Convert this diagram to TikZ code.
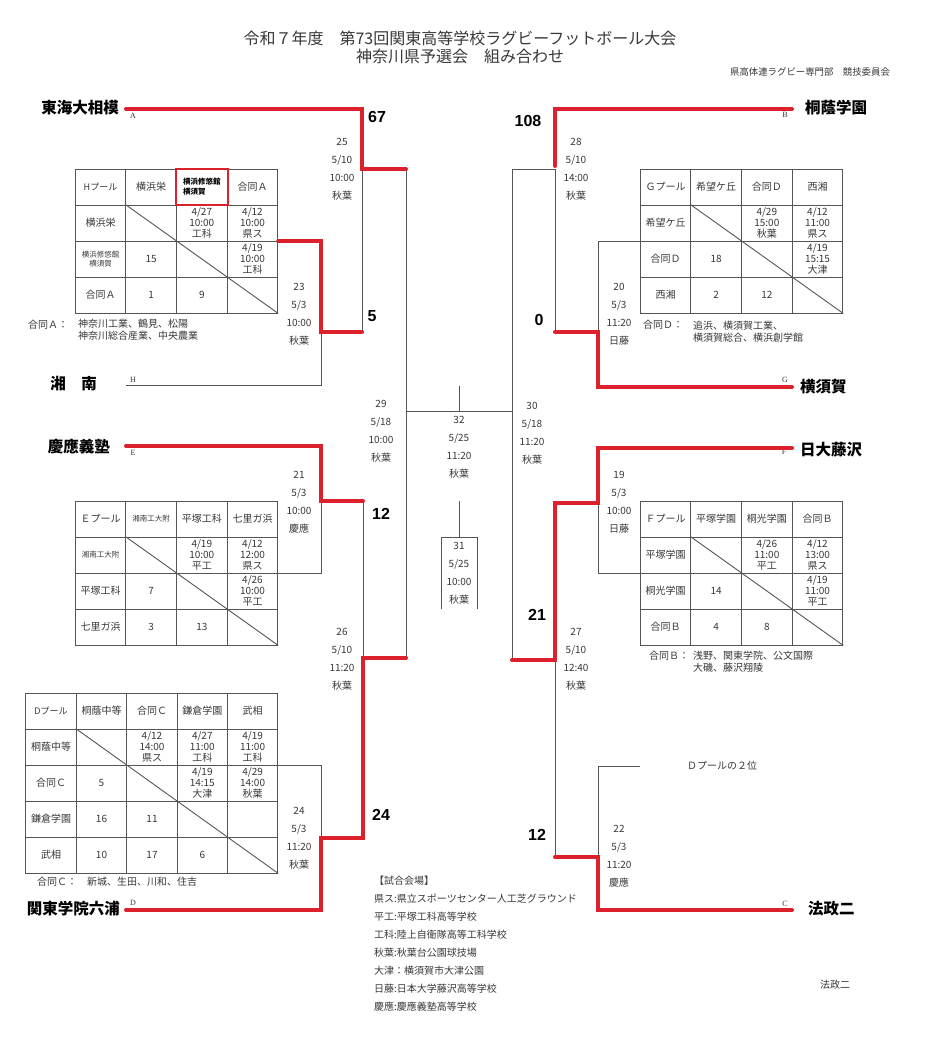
\documentclass[tikz,border=0pt]{standalone}
\usepackage{fontspec}
\setmainfont{Liberation Serif}
\setsansfont{Liberation Sans}
\newfontfamily\jp{Noto Sans CJK JP}

\definecolor{rugbyred}{RGB}{220,32,44}
\definecolor{linegray}{RGB}{85,85,85}
\definecolor{textgray}{RGB}{55,55,55}

\tikzset{
  win/.style={draw=rugbyred, line width=4pt, line cap=round},
  link/.style={draw=linegray, line width=0.9pt},
  title/.style={font=\jp\fontsize{16}{18}\selectfont, text=textgray, inner sep=0pt},
  org/.style={font=\jp\fontsize{9.4}{11}\selectfont, text=textgray, inner sep=0pt},
  team/.style={font=\jp\bfseries\fontsize{15.5}{16}\selectfont, inner sep=0pt},
  score/.style={font=\sffamily\bfseries\fontsize{16}{16}\selectfont, inner sep=0pt},
  slot/.style={font=\rmfamily\fontsize{8}{8}\selectfont, text=textgray, inner sep=0pt},
  match/.style={font=\jp\fontsize{10}{18}\selectfont, text=textgray, align=center, inner sep=0pt},
  cell/.style={draw=linegray, line width=0.9pt, minimum width=50.6pt, minimum height=36pt, inner sep=0pt, align=center, text=textgray, font=\jp\fontsize{10}{11}\selectfont},
  cellsmall/.style={cell, font=\jp\fontsize{7.5}{9}\selectfont},
  cellbold/.style={cell, align=left, text=black, font=\jp\bfseries\fontsize{7.5}{10}\selectfont},
  note/.style={font=\jp\fontsize{10}{12}\selectfont, text=textgray, inner sep=0pt, align=left},
}

\begin{document}
\begin{tikzpicture}[x=1pt, y=-1pt]
  \useasboundingbox (0,0) rectangle (926,1054);
  \node[title] (title1) at (460,38) {令和７年度　第73回関東高等学校ラグビーフットボール大会};
  \node[title] (title2) at (460,56) {神奈川県予選会　組み合わせ};
  \node[org] (org) at (810,72) {県高体連ラグビー専門部　競技委員会};

  \node[team, anchor=east] (tokai) at (119,108) {東海大相模};
  \node[team, anchor=east] (shonan) at (97,384) {湘　南};
  \node[team, anchor=east] (keio) at (110,447) {慶應義塾};
  \node[team, anchor=east] (kantomutsu) at (120,909) {関東学院六浦};
  \node[team, anchor=west] (toin) at (805,108) {桐蔭学園};
  \node[team, anchor=west] (yokosuka) at (800,387) {横須賀};
  \node[team, anchor=west] (nichidai) at (800,450) {日大藤沢};
  \node[team, anchor=west] (hosei) at (808,909) {法政二};

  \coordinate (A) at (126,109);
  \coordinate (H) at (126,385);
  \coordinate (E) at (126,446);
  \coordinate (D) at (126,910);
  \coordinate (B) at (792,109);
  \coordinate (G) at (792,387);
  \coordinate (F) at (792,448);
  \coordinate (C) at (792,910);
  \coordinate (d2) at (640,766);
  \coordinate (j25) at (362,169);
  \coordinate (j23) at (321,332);
  \coordinate (j21) at (321,501);
  \coordinate (j24) at (321,838);
  \coordinate (j26) at (363,658);
  \coordinate (j29) at (406,411);
  \coordinate (j30) at (512,411);
  \coordinate (j28) at (555,169);
  \coordinate (j20) at (598,332);
  \coordinate (j19) at (598,503);
  \coordinate (j27) at (555,660);
  \coordinate (j22) at (598,857);
  \coordinate (j32) at (459,411);
  \coordinate (t32) at (459,386);
  \coordinate (t31) at (459,501);
  \coordinate (j31) at (459,537);

  \node[slot] (slotA) at (133,116) {A};
  \node[slot] (slotH) at (133,380) {H};
  \node[slot] (slotE) at (133,453) {E};
  \node[slot] (slotD) at (133,903) {D};
  \node[slot] (slotB) at (785,115) {B};
  \node[slot] (slotG) at (785,380) {G};
  \node[slot] (slotF) at (784,452) {F};
  \node[slot] (slotC) at (785,904) {C};

  \node[cell, font=\jp\fontsize{9}{11}\selectfont] (h00) at (100.5,187) {Hプール};
  \node[cell] (h01) at (151.2,187) {横浜栄};
  \node[cellbold] (h02) at (201.8,187) {横浜修悠館\\横須賀};
  \node[cell] (h03) at (252.5,187) {合同Ａ};
  \node[cell] (h10) at (100.5,223) {横浜栄};
  \node[cell] (h11) at (151.2,223) {};
  \node[cell] (h12) at (201.8,223) {4/27\\10:00\\工科};
  \node[cell] (h13) at (252.5,223) {4/12\\10:00\\県ス};
  \node[cellsmall] (h20) at (100.5,259) {横浜修悠館\\横須賀};
  \node[cell] (h21) at (151.2,259) {15};
  \node[cell] (h22) at (201.8,259) {};
  \node[cell] (h23) at (252.5,259) {4/19\\10:00\\工科};
  \node[cell] (h30) at (100.5,295) {合同Ａ};
  \node[cell] (h31) at (151.2,295) {1};
  \node[cell] (h32) at (201.8,295) {9};
  \node[cell] (h33) at (252.5,295) {};
  \draw[link] (h11.north west) -- (h33.south east);
  \draw[rugbyred, line width=2pt] (h02.north west) rectangle (h02.south east);

  \node[cell] (g00) at (665.5,187) {Ｇプール};
  \node[cell] (g01) at (716.2,187) {希望ケ丘};
  \node[cell] (g02) at (766.8,187) {合同Ｄ};
  \node[cell] (g03) at (817.5,187) {西湘};
  \node[cell] (g10) at (665.5,223) {希望ケ丘};
  \node[cell] (g11) at (716.2,223) {};
  \node[cell] (g12) at (766.8,223) {4/29\\15:00\\秋葉};
  \node[cell] (g13) at (817.5,223) {4/12\\11:00\\県ス};
  \node[cell] (g20) at (665.5,259) {合同Ｄ};
  \node[cell] (g21) at (716.2,259) {18};
  \node[cell] (g22) at (766.8,259) {};
  \node[cell] (g23) at (817.5,259) {4/19\\15:15\\大津};
  \node[cell] (g30) at (665.5,295) {西湘};
  \node[cell] (g31) at (716.2,295) {2};
  \node[cell] (g32) at (766.8,295) {12};
  \node[cell] (g33) at (817.5,295) {};
  \draw[link] (g11.north west) -- (g33.south east);

  \node[cell] (e00) at (100.5,519) {Ｅプール};
  \node[cellsmall] (e01) at (151.2,519) {湘南工大附};
  \node[cell] (e02) at (201.8,519) {平塚工科};
  \node[cell] (e03) at (252.5,519) {七里ガ浜};
  \node[cellsmall] (e10) at (100.5,555) {湘南工大附};
  \node[cell] (e11) at (151.2,555) {};
  \node[cell] (e12) at (201.8,555) {4/19\\10:00\\平工};
  \node[cell] (e13) at (252.5,555) {4/12\\12:00\\県ス};
  \node[cell] (e20) at (100.5,591) {平塚工科};
  \node[cell] (e21) at (151.2,591) {7};
  \node[cell] (e22) at (201.8,591) {};
  \node[cell] (e23) at (252.5,591) {4/26\\10:00\\平工};
  \node[cell] (e30) at (100.5,627) {七里ガ浜};
  \node[cell] (e31) at (151.2,627) {3};
  \node[cell] (e32) at (201.8,627) {13};
  \node[cell] (e33) at (252.5,627) {};
  \draw[link] (e11.north west) -- (e33.south east);

  \node[cell] (f00) at (665.5,519) {Ｆプール};
  \node[cell] (f01) at (716.2,519) {平塚学園};
  \node[cell] (f02) at (766.8,519) {桐光学園};
  \node[cell] (f03) at (817.5,519) {合同Ｂ};
  \node[cell] (f10) at (665.5,555) {平塚学園};
  \node[cell] (f11) at (716.2,555) {};
  \node[cell] (f12) at (766.8,555) {4/26\\11:00\\平工};
  \node[cell] (f13) at (817.5,555) {4/12\\13:00\\県ス};
  \node[cell] (f20) at (665.5,591) {桐光学園};
  \node[cell] (f21) at (716.2,591) {14};
  \node[cell] (f22) at (766.8,591) {};
  \node[cell] (f23) at (817.5,591) {4/19\\11:00\\平工};
  \node[cell] (f30) at (665.5,627) {合同Ｂ};
  \node[cell] (f31) at (716.2,627) {4};
  \node[cell] (f32) at (766.8,627) {8};
  \node[cell] (f33) at (817.5,627) {};
  \draw[link] (f11.north west) -- (f33.south east);

  \node[cell, font=\jp\fontsize{9}{11}\selectfont] (d00) at (51,711) {Dプール};
  \node[cell] (d01) at (101.5,711) {桐蔭中等};
  \node[cell] (d02) at (152,711) {合同Ｃ};
  \node[cell] (d03) at (202.3,711) {鎌倉学園};
  \node[cell] (d04) at (252.6,711) {武相};
  \node[cell] (d10) at (51,747) {桐蔭中等};
  \node[cell] (d11) at (101.5,747) {};
  \node[cell] (d12) at (152,747) {4/12\\14:00\\県ス};
  \node[cell] (d13) at (202.3,747) {4/27\\11:00\\工科};
  \node[cell] (d14) at (252.6,747) {4/19\\11:00\\工科};
  \node[cell] (d20) at (51,783) {合同Ｃ};
  \node[cell] (d21) at (101.5,783) {5};
  \node[cell] (d22) at (152,783) {};
  \node[cell] (d23) at (202.3,783) {4/19\\14:15\\大津};
  \node[cell] (d24) at (252.6,783) {4/29\\14:00\\秋葉};
  \node[cell] (d30) at (51,819) {鎌倉学園};
  \node[cell] (d31) at (101.5,819) {16};
  \node[cell] (d32) at (152,819) {11};
  \node[cell] (d33) at (202.3,819) {};
  \node[cell] (d34) at (252.6,819) {};
  \node[cell] (d40) at (51,855) {武相};
  \node[cell] (d41) at (101.5,855) {10};
  \node[cell] (d42) at (152,855) {17};
  \node[cell] (d43) at (202.3,855) {6};
  \node[cell] (d44) at (252.6,855) {};
  \draw[link] (d11.north west) -- (d44.south east);

  \draw[link] (H) -| (j23);
  \draw[link] (j25) -- (j25 |- j23);
  \draw[link] (e13.south east) -| (j21);
  \draw[link] (j26 |- j21) -- (j26);
  \draw[link] (d14.south east) -| (j24);
  \draw[link] (j29 |- j25) -- (j29 |- j26);
  \draw[link] (j29) -- (j30);
  \draw[link] (j32) -- (t32);
  \draw[link] (t31) -- (j31) ++(-18,72) -- ++(0,-72) -- ++(36,0) -- ++(0,72);
  \draw[link] (j30 |- j28) -- (j30 |- j27);
  \draw[link] (j28) -- (j30 |- j28);
  \draw[link] (j28) -- (j28 |- j20);
  \draw[link] (g10.south west) -| (j20);
  \draw[link] (f10.south west) -| (j19);
  \draw[link] (j27) -- (j27 |- j22);
  \draw[link] (d2) -| (j22);

  \draw[win] (A) -| (j25) -- (j29 |- j25);
  \draw[win] (h13.south east) -| (j23) -- (j25 |- j23);
  \draw[win] (E) -| (j21) -- (j26 |- j21);
  \draw[win] (D) -| (j24) -- (j26 |- j24) -- (j26) -- (j29 |- j26);
  \draw[win, shorten >=3pt] (B) -| (j28);
  \draw[win] (G) -| (j20) -- (j28 |- j20);
  \draw[win] (F) -| (j19) -- (j27 |- j19) -- (j27) -- (j30 |- j27);
  \draw[win] (C) -| (j22) -- (j27 |- j22);

  \node[score] (s67) at (377,117) {67};
  \node[score] (s5) at (372,316) {5};
  \node[score] (s12l) at (381,514) {12};
  \node[score] (s24) at (381,815) {24};
  \node[score] (s108) at (528,121) {108};
  \node[score] (s0) at (539,320) {0};
  \node[score] (s21) at (537,615) {21};
  \node[score] (s12r) at (537,835) {12};

  \node[match] (m25) at (342,169.5) {25\\5/10\\10:00\\秋葉};
  \node[match] (m23) at (299,314) {23\\5/3\\10:00\\秋葉};
  \node[match] (m28) at (576,169.5) {28\\5/10\\14:00\\秋葉};
  \node[match] (m20) at (619,314) {20\\5/3\\11:20\\日藤};
  \node[match] (m29) at (381,431.5) {29\\5/18\\10:00\\秋葉};
  \node[match] (m32) at (459,447) {32\\5/25\\11:20\\秋葉};
  \node[match] (m30) at (532,433) {30\\5/18\\11:20\\秋葉};
  \node[match] (m21) at (299,502) {21\\5/3\\10:00\\慶應};
  \node[match] (m19) at (619,502) {19\\5/3\\10:00\\日藤};
  \node[match] (m31) at (459,573) {31\\5/25\\10:00\\秋葉};
  \node[match] (m26) at (342,659) {26\\5/10\\11:20\\秋葉};
  \node[match] (m27) at (576,659) {27\\5/10\\12:40\\秋葉};
  \node[match] (m24) at (299,838) {24\\5/3\\11:20\\秋葉};
  \node[match] (m22) at (619,856) {22\\5/3\\11:20\\慶應};

  \node[note, anchor=west] (jointA) at (28,325) {合同Ａ：};
  \node[note, anchor=north west] (jointAlist) at (78,319) {神奈川工業、鶴見、松陽\\神奈川総合産業、中央農業};
  \node[note, anchor=west] (jointD) at (643,325) {合同Ｄ：};
  \node[note, anchor=north west] (jointDlist) at (693,321) {追浜、横須賀工業、\\横須賀総合、横浜創学館};
  \node[note, anchor=west] (jointB) at (649,656) {合同Ｂ：};
  \node[note, anchor=north west] (jointBlist) at (693,651) {浅野、関東学院、公文国際\\大磯、藤沢翔陵};
  \node[note, anchor=west] (jointC) at (37,882) {合同Ｃ：　新城、生田、川和、住吉};
  \node[note] (dpool2) at (722,766) {Ｄプールの２位};
  \node[note, anchor=north west, font=\jp\fontsize{10}{18}\selectfont] (venue) at (374,876) {【試合会場】\\県ス:県立スポーツセンター人工芝グラウンド\\平工:平塚工科高等学校\\工科:陸上自衛隊高等工科学校\\秋葉:秋葉台公園球技場\\大津：横須賀市大津公園\\日藤:日本大学藤沢高等学校\\慶應:慶應義塾高等学校};
  \node[note] (hoseinote) at (835,985) {法政二};
\end{tikzpicture}
\end{document}
